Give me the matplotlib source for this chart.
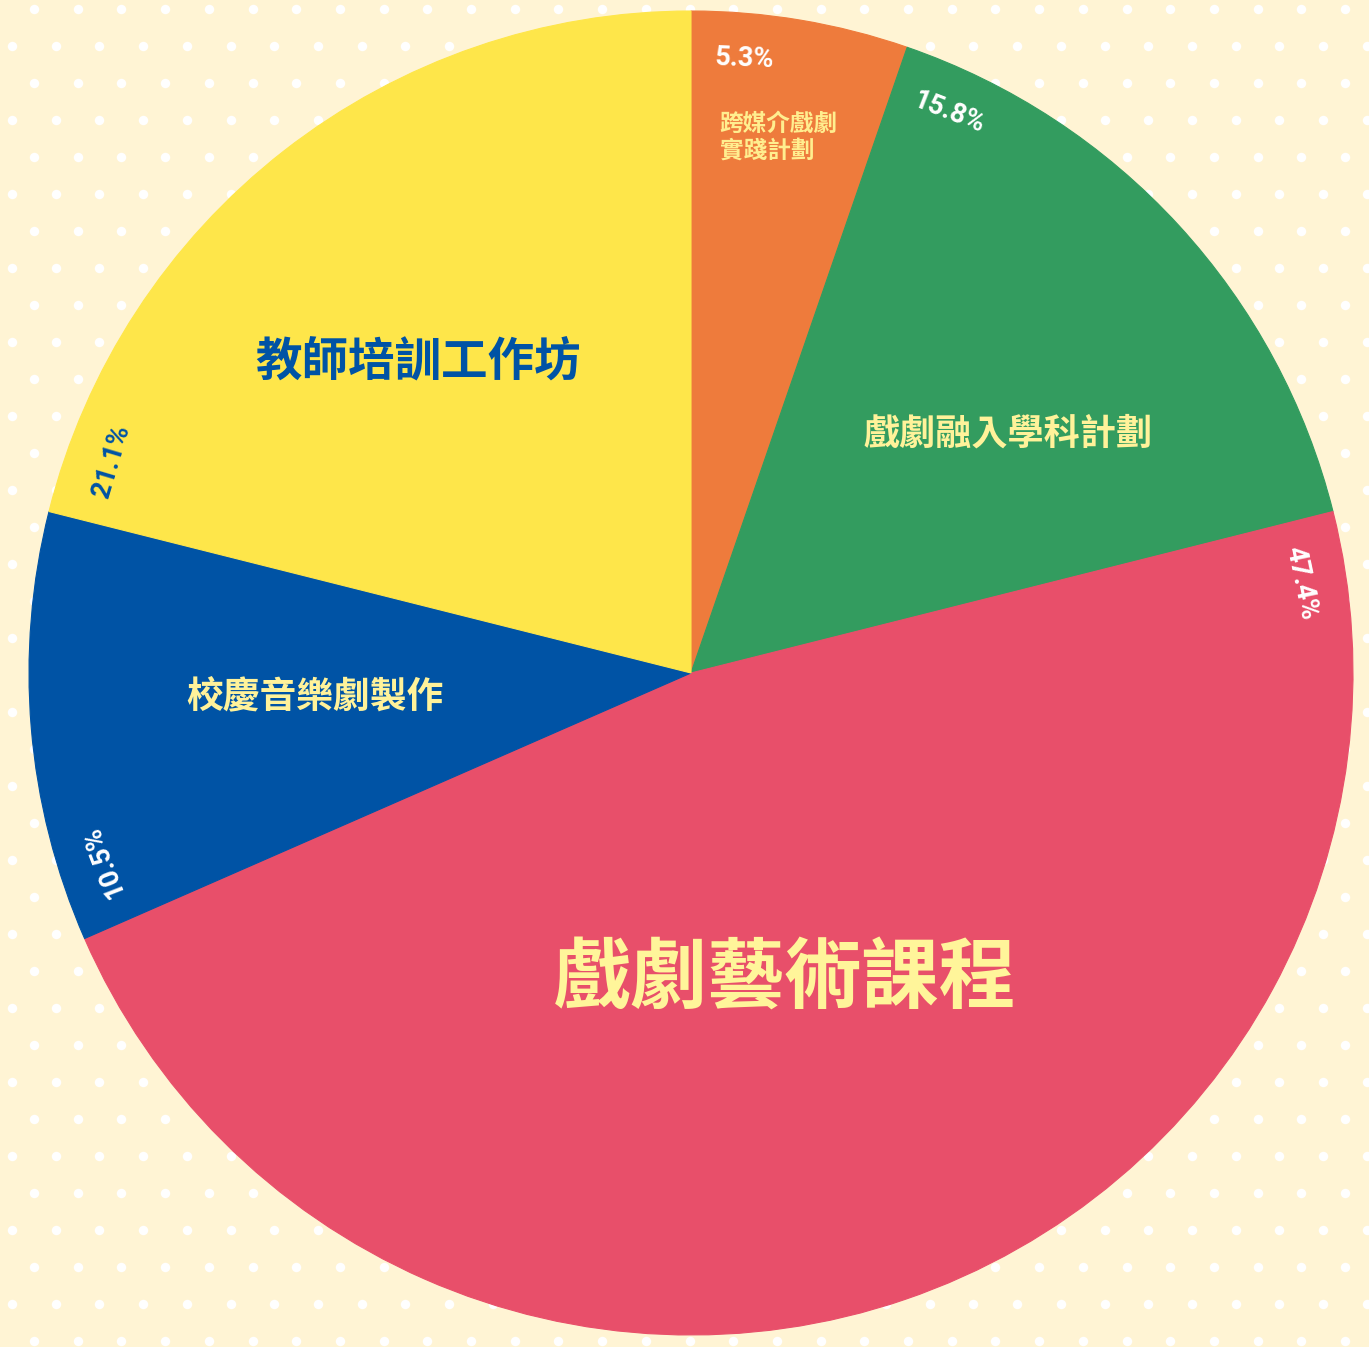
import numpy as np
import matplotlib
matplotlib.use("Agg")
import matplotlib.pyplot as plt

# data
labels = ["跨媒介戲劇\n實踐計劃", "戲劇融入學科計劃", "戲劇藝術課程", "校慶音樂劇製作", "教師培訓工作坊"]
shares = [5.3, 15.8, 47.4, 10.5, 21.1]
pct_text = ["5.3%", "15.8%", "47.4%", "10.5%", "21.1%"]

colors = ["#EE7B3C", "#339C5F", "#E84F6A", "#0053A5", "#FEE64A"]
label_colors = ["#FFEE8F", "#FFF29A", "#FFF59A", "#FFF29A", "#0053A5"]
pct_colors = ["white", "white", "white", "white", "#0053A5"]
label_sizes = [17, 26, 55.5, 26.5, 33.5]
label_weights = ["bold", "bold", "heavy", "bold", "heavy"]
# label placement: (clockwise angle from top in degrees, radius fraction), alignment
label_pos = [(9.3, 0.82), (53, 0.60), (162.9, 0.483), (266.3, 0.57), (318.7, 0.625)]
label_ha = ["left", "center", "center", "center", "center"]

W, H = 1369, 1347
cx, cy, R = 691, H - 673, 662
bg = "#FFF4D4"

fig = plt.figure(figsize=(W / 100, H / 100), dpi=100)
fig.patch.set_facecolor(bg)
ax = fig.add_axes([0, 0, 1, 1])
ax.set_facecolor(bg)

# polka dot background
dot_x, dot_y = [], []
for k in range(int(H / 37) + 2):
    ypix = 9.3 + 37 * k
    x0 = 34 if k % 2 == 0 else 12
    for xpix in np.arange(x0, W + 20, 43.7):
        dot_x.append(xpix)
        dot_y.append(H - ypix)
ax.scatter(dot_x, dot_y, s=46, color="white", linewidths=0, zorder=0)

wedges, _ = ax.pie(shares, colors=colors, startangle=90, counterclock=False,
                   center=(cx, cy), radius=R, wedgeprops=dict(linewidth=0.8))
for w, c in zip(wedges, colors):
    w.set_edgecolor(c)
    w.set_zorder(1)

cjk = ["Noto Sans CJK TC", "DejaVu Sans"]

# category labels
for i, lab in enumerate(labels):
    ang, rf = label_pos[i]
    x = cx + rf * R * np.sin(np.radians(ang))
    y = cy + rf * R * np.cos(np.radians(ang))
    if label_ha[i] == "left":
        x = x - 59
    ax.text(x, y, lab, ha=label_ha[i], va="center", color=label_colors[i],
            fontsize=label_sizes[i], fontweight=label_weights[i], family=cjk,
            linespacing=1.15, zorder=3)

# percentage labels along the rim, just past each wedge start
start = 0.0
for i, s in enumerate(shares):
    a = start / 100 * 360 + 2.2
    x = cx + 0.93 * R * np.sin(np.radians(a))
    y = cy + 0.93 * R * np.cos(np.radians(a))
    ax.text(x, y, pct_text[i], ha="left", va="center", rotation=-a,
            rotation_mode="anchor", color=pct_colors[i], fontsize=19.5,
            fontweight="semibold", family=["Roboto", "DejaVu Sans"], zorder=3)
    start += s

ax.set_xlim(0, W)
ax.set_ylim(0, H)
ax.set_aspect("equal")
ax.axis("off")

fig.savefig("out.png", dpi=100, facecolor=bg)
